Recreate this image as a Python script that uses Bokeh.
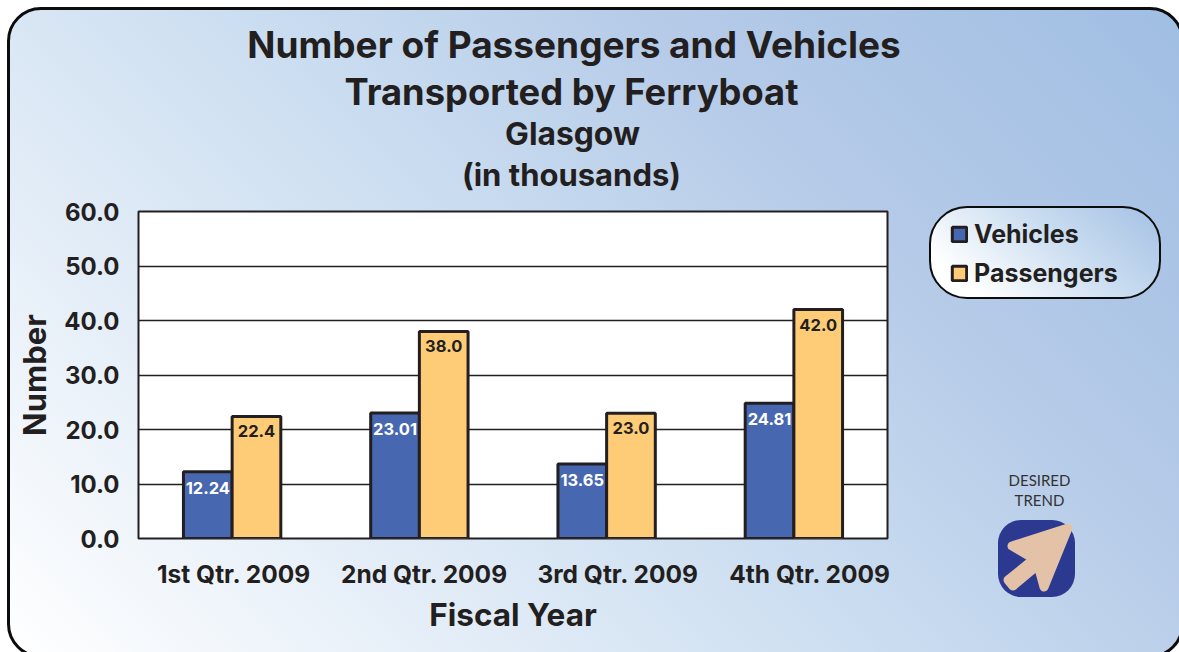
from urllib.parse import quote
from bokeh.plotting import figure
from bokeh.embed import file_html
from bokeh.resources import INLINE
from bokeh.core.properties import value
from bokeh.models import (ColumnDataSource, Label, Legend, LegendItem,
                          InlineStyleSheet, FixedTicker, Range1d)

quarters = ["1st Qtr. 2009", "2nd Qtr. 2009", "3rd Qtr. 2009", "4th Qtr. 2009"]
vehicles = [12.24, 23.01, 13.65, 24.81]
passengers = [22.4, 38.0, 23.0, 42.0]
vehicle_labels = ["12.24", "23.01", "13.65", "24.81"]
passenger_labels = ["22.4", "38.0", "23.0", "42.0"]
y_ticks = [0, 10, 20, 30, 40, 50, 60]
y_tick_labels = {0: "0.0", 10: "10.0", 20: "20.0", 30: "30.0", 40: "40.0", 50: "50.0", 60: "60.0"}
# the reference's category labels drift to the right of their bars (1000 units = one group)
x_label_ticks = [510, 1527, 2561, 3586]

FONT = "Inter"
INK = "#231f20"
BLUE = "#4767b0"
GOLD = "#fecb76"

icon = ("<svg xmlns='http://www.w3.org/2000/svg' width='79' height='78'>"
        "<rect x='1' y='0' width='77' height='77' rx='23' fill='#2b3990'/>"
        "<polygon points='71,8 15,26 37,39 11,60 16,66 41,45 47,67' fill='#e3c2a8' "
        "stroke='#e3c2a8' stroke-width='9' stroke-linejoin='round'/></svg>")
icon_url = 'url("data:image/svg+xml,' + quote(icon) + '")'

css = """
:host { overflow: hidden; }
:host::before {
  content: ""; position: absolute; z-index: -1; box-sizing: border-box;
  left: 7px; top: 7px; width: 1177px; height: 651px;
  border: 3px solid #0c0c0c; border-radius: 34px;
  background: ICON no-repeat 987px 510px,
              linear-gradient(45deg, #ffffff 0%, #c9dcf0 50%, #b6cbe8 70%, #a0bee3 100%);
}
:host::after {
  content: ""; position: absolute; z-index: -1; box-sizing: border-box;
  left: 929px; top: 206px; width: 232px; height: 93px;
  border: 2.5px solid #0c0c0c; border-radius: 38px;
  background: linear-gradient(40deg, #ffffff 15%, #c9dcf0 60%, #a5c1e4 100%);
}
""".replace("ICON", icon_url)

p = figure(width=1179, height=652, output_backend="svg", toolbar_location=None,
           frame_width=749, frame_height=327,
           x_range=Range1d(0, 1000 * len(quarters)), y_range=Range1d(0, 60),
           min_border_left=138, min_border_right=292, min_border_top=211, min_border_bottom=114,
           background_fill_color="white", border_fill_color=None,
           outline_line_color=INK, outline_line_width=2,
           stylesheets=[InlineStyleSheet(css=css)])

W = 260
centres = [1000 * i + 500 for i in range(len(quarters))]
src = ColumnDataSource(dict(x1=[c - W / 2 for c in centres], x2=[c + W / 2 for c in centres],
                            v=vehicles, pa=passengers,
                            vl=vehicle_labels, pl=passenger_labels))
r1 = p.vbar(x="x1", top="v", width=W, source=src,
            fill_color=BLUE, line_color=INK, line_width=3)
r2 = p.vbar(x="x2", top="pa", width=W, source=src,
            fill_color=GOLD, line_color=INK, line_width=3)

p.text(x="x1", y="v", text="vl", source=src, y_offset=16,
       text_color="white", text_align="center", text_baseline="middle",
       text_font=value(FONT), text_font_style="bold", text_font_size="16.5px")
p.text(x="x2", y="pa", text="pl", source=src, y_offset=15,
       text_color=INK, text_align="center", text_baseline="middle",
       text_font=value(FONT), text_font_style="bold", text_font_size="16.5px")

p.xgrid.visible = False
p.ygrid.grid_line_color = INK
p.ygrid.grid_line_width = 1.5
p.ygrid.ticker = FixedTicker(ticks=y_ticks)

x_axis = p.xaxis[0]
x_axis.ticker = FixedTicker(ticks=x_label_ticks)
x_axis.major_label_overrides = dict(zip(x_label_ticks, quarters))
p.yaxis.ticker = FixedTicker(ticks=y_ticks)
p.yaxis.major_label_overrides = y_tick_labels
for ax in (x_axis, p.yaxis[0]):
    ax.axis_line_color = None
    ax.major_tick_line_color = None
    ax.minor_tick_line_color = None
    ax.major_label_text_font = FONT
    ax.major_label_text_font_style = "bold"
    ax.major_label_text_color = INK
    ax.axis_label_text_font = FONT
    ax.axis_label_text_font_style = "bold"
    ax.axis_label_text_color = INK
x_axis.major_label_text_font_size = "24.5px"
p.yaxis.major_label_text_font_size = "24px"
x_axis.axis_label_text_font_size = "31.5px"
p.yaxis.axis_label_text_font_size = "31px"
x_axis.major_label_standoff = 14
p.yaxis.major_label_standoff = 13
x_axis.axis_label = "Fiscal Year"
p.yaxis.axis_label = "Number"
x_axis.axis_label_standoff = 3
p.yaxis.axis_label_standoff = 8

for txt, cx, cy, size in [("Number of Passengers and Vehicles", 573.5, 44, "37px"),
                          ("Transported by Ferryboat", 571, 91, "36.3px"),
                          ("Glasgow", 572, 133, "31.8px"),
                          ("(in thousands)", 571, 174, "31px")]:
    p.add_layout(Label(x=cx, y=cy, x_units="canvas", y_units="canvas", text=txt,
                       text_align="center", text_baseline="middle", text_color=INK,
                       text_font=FONT, text_font_style="bold", text_font_size=size), "above")

for txt, cy in [("DESIRED", 479), ("TREND", 499)]:
    p.add_layout(Label(x=1039, y=cy, x_units="canvas", y_units="canvas", text=txt,
                       text_align="center", text_baseline="middle", text_color="#333333",
                       text_font="Lato", text_font_size="15px"), "above")

legend = Legend(items=[LegendItem(label="Vehicles", renderers=[r1]),
                       LegendItem(label="Passengers", renderers=[r2])],
                location=(63, 250), orientation="vertical",
                background_fill_alpha=0, border_line_color=None,
                glyph_width=18, glyph_height=18, label_width=0, spacing=9, padding=0,
                margin=0, label_standoff=6, label_text_font=FONT,
                label_text_font_style="bold", label_text_font_size="25px",
                label_text_color=INK)
p.add_layout(legend, "right")

open("out.html", "w").write(file_html(p, INLINE))
